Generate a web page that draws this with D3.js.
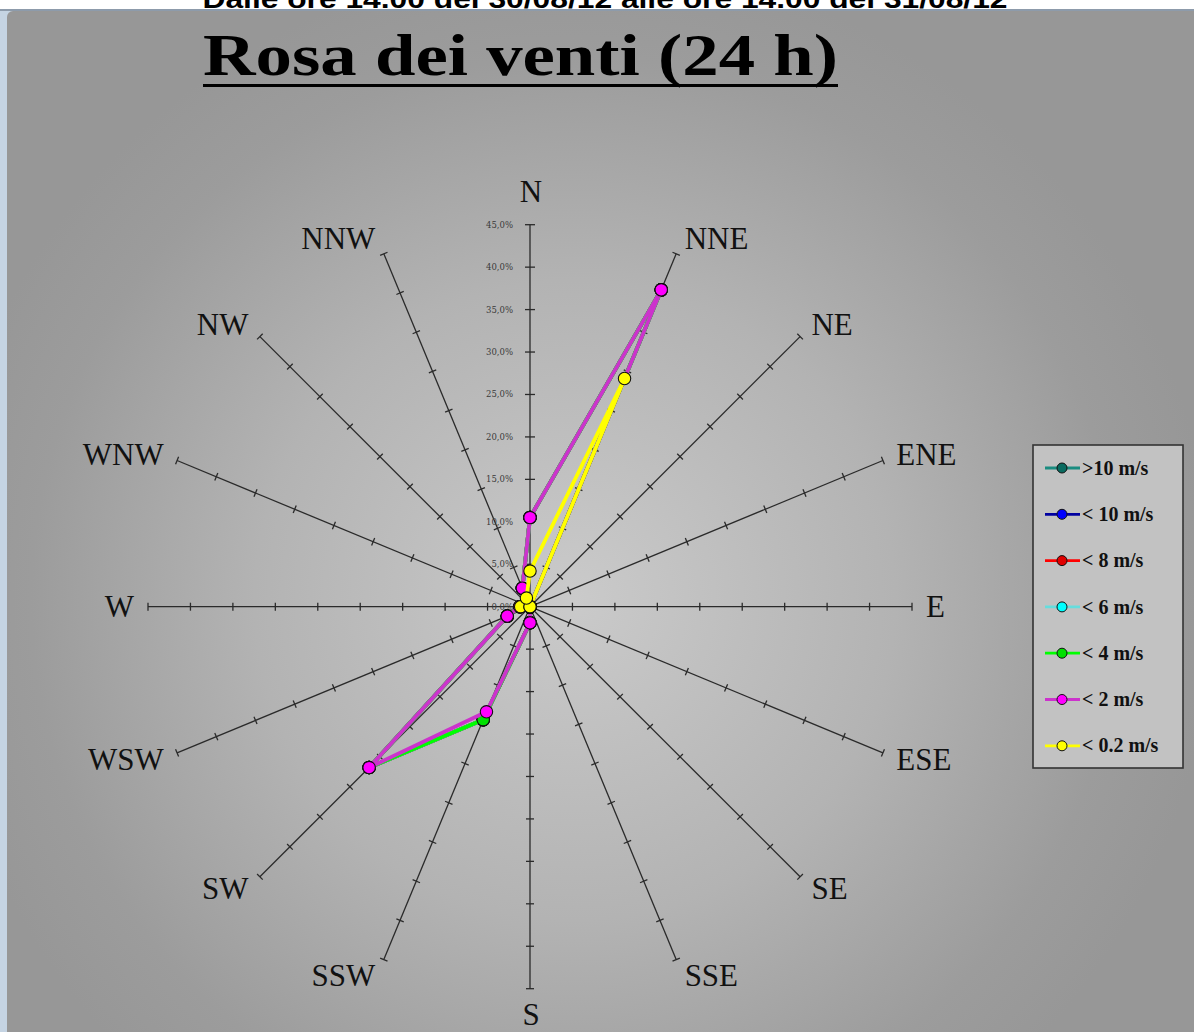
<!DOCTYPE html>
<html><head><meta charset="utf-8">
<script src="https://cdn.jsdelivr.net/npm/d3@7/dist/d3.min.js"></script>
<style>html,body{margin:0;padding:0;background:#fff;overflow:hidden}</style>
</head><body>
<svg id="c" width="1194" height="1032"></svg>
<script>
// ---------- DATA ----------
const directions = ["N","NNE","NE","ENE","E","ESE","SE","SSE","S","SSW","SW","WSW","W","WNW","NW","NNW"];
const seriesNames = [">10 m/s","< 10 m/s","< 8 m/s","< 6 m/s","< 4 m/s","< 2 m/s","< 0.2 m/s"];
const over10  = [10.5, 40.4, 0, 0, 0, 0, 0, 0, 1.9, 14.4, 26.8, 2.9, 1.2, 0, 0, 2.35];
const under10 = [10.5, 40.4, 0, 0, 0, 0, 0, 0, 1.9, 14.4, 26.8, 2.9, 1.2, 0, 0, 2.35];
const under8  = [10.5, 40.4, 0, 0, 0, 0, 0, 0, 1.9, 14.4, 26.8, 2.9, 1.2, 0, 0, 2.35];
const under6  = [10.5, 40.4, 0, 0, 0, 0, 0, 0, 1.9, 14.4, 26.8, 2.9, 1.2, 0, 0, 2.35];
const under4  = [10.5, 40.4, 0, 0, 0, 0, 0, 0, 1.9, 14.4, 26.8, 2.9, 1.2, 0, 0, 2.35];
const under2  = [10.5, 40.4, 0, 0, 0, 0, 0, 0, 1.9, 13.4, 26.8, 2.9, 1.2, 0, 0, 2.35];
const under02 = [4.2, 29.1, 0, 0, 0, 0, 0, 0, 0, 0, 0, 0, 1.1, 0, 0, 1.1];
const radialTicks = [0, 5, 10, 15, 20, 25, 30, 35, 40, 45];
const titleText = "Rosa dei venti (24 h)";
const subtitleText = "Dalle ore 14.00 del 30/08/12 alle ore 14.00 del 31/08/12";

// ---------- STYLES ----------
const lineColors   = ["#1a8c80","#0000a0","#ff0000","#66dddd","#00ff00","#cc33cc","#ffff00"];
const markerColors = ["#0a6b60","#0000ff","#e00000","#00ffff","#00e000","#ff00ff","#ffff00"];
const seriesValues = [over10, under10, under8, under6, under4, under2, under02];

const svg = d3.select("#c");
const W = 1194, H = 1032;
const cx = 530, cy = 606.7, R = 382;

// defs
const defs = svg.append("defs");
const g1 = defs.append("radialGradient").attr("id","bg").attr("gradientUnits","userSpaceOnUse")
  .attr("cx",575).attr("cy",600).attr("r",640);
g1.append("stop").attr("offset","0").attr("stop-color","#cacaca");
g1.append("stop").attr("offset","0.5").attr("stop-color","#b3b3b3");
g1.append("stop").attr("offset","0.85").attr("stop-color","#9c9c9c");
g1.append("stop").attr("offset","1").attr("stop-color","#979797");

// top strip + subtitle (cut at the top edge as in the source)
svg.append("rect").attr("x",0).attr("y",0).attr("width",W).attr("height",10).attr("fill","#ffffff");
svg.append("text").attr("x",605).attr("y",8).attr("text-anchor","middle")
  .attr("font-family","Liberation Sans, Arial, sans-serif").attr("font-weight","bold")
  .attr("font-size",25).attr("textLength",805).attr("lengthAdjust","spacingAndGlyphs")
  .attr("fill","#000").text(subtitleText);
// chart frame
svg.append("rect").attr("x",0).attr("y",9).attr("width",W).attr("height",H-9).attr("fill","#c5d4e3");
svg.append("rect").attr("x",7).attr("y",11).attr("width",W).attr("height",H).attr("rx",6).attr("fill","url(#bg)");
svg.append("rect").attr("x",0).attr("y",9).attr("width",W).attr("height",2).attr("fill","#8d9bab");

// title
svg.append("text").attr("x",203).attr("y",75)
  .attr("font-family","Liberation Serif, Times New Roman, serif").attr("font-weight","bold")
  .attr("font-size",60).attr("textLength",635).attr("lengthAdjust","spacingAndGlyphs")
  .attr("fill","#000").text(titleText);
svg.append("rect").attr("x",203).attr("y",84).attr("width",635).attr("height",3).attr("fill","#000");

// scales
const r = d3.scaleLinear().domain([0,45]).range([0,R]);
const ang = d3.scalePoint().domain(directions).range([0, 2*Math.PI*15/16]);
const px = (d,v) => cx + r(v)*Math.sin(ang(d));
const py = (d,v) => cy - r(v)*Math.cos(ang(d));

const plot = svg.append("g");
// axes
directions.forEach(d => {
  const a = ang(d), s = Math.sin(a), c = Math.cos(a);
  plot.append("line").attr("x1",cx).attr("y1",cy).attr("x2",px(d,45)).attr("y2",py(d,45))
    .attr("stroke","#2a2a2a").attr("stroke-width",1.3);
  radialTicks.filter(t=>t>0).forEach(t => {
    const x = px(d,t), y = py(d,t), L = d==="N" ? 5 : 4;
    plot.append("line").attr("x1",x - c*L).attr("y1",y - s*L).attr("x2",x + c*L).attr("y2",y + s*L)
      .attr("stroke","#2a2a2a").attr("stroke-width",1.3);
  });
  // direction label
  const ex = px(d,45), ey = py(d,45);
  let tx, ty, anchor;
  if (Math.abs(s) < 0.1) { tx = ex + 1; ty = ey - c*(c>0 ? 33.5 : 26); anchor = "middle"; }
  else { const gap = 5 + 9*Math.abs(s); tx = ex + (s>0?gap:-gap); ty = ey - 17*c; anchor = s>0 ? "start" : "end"; }
  plot.append("text").attr("x",tx).attr("y",ty).attr("dy","0.34em").attr("text-anchor",anchor)
    .attr("font-family","Liberation Serif, Times New Roman, serif").attr("font-size",31)
    .attr("fill","#111").text(d);
});
// radial tick labels on N axis
radialTicks.forEach(t => {
  plot.append("text").attr("x",cx - 17).attr("y",py("N",t)).attr("dy","0.35em").attr("text-anchor","end")
    .attr("font-family","DejaVu Serif, serif").attr("font-size",8.5).attr("fill","#3a3a3a")
    .text(d3.format(".1f")(t).replace(".",",") + "%");
});

// series
const line = d3.lineRadial().angle((v,i)=>ang(directions[i])).radius(v=>r(v)).curve(d3.curveLinearClosed);
seriesValues.forEach((vals,k) => {
  const g = plot.append("g").attr("transform",`translate(${cx},${cy})`);
  g.append("path").attr("d",line(vals)).attr("fill","none").attr("stroke",lineColors[k])
    .attr("stroke-width",3.8).attr("stroke-linejoin","round");
  g.selectAll("circle").data(vals).join("circle")
    .attr("cx",(v,i)=>r(v)*Math.sin(ang(directions[i])))
    .attr("cy",(v,i)=>-r(v)*Math.cos(ang(directions[i])))
    .attr("r",6.2).attr("fill",markerColors[k]).attr("stroke","#111").attr("stroke-width",1.1);
});

// legend
const lg = svg.append("g");
lg.append("rect").attr("x",1033).attr("y",445).attr("width",150).attr("height",323)
  .attr("fill","#c2c2c2").attr("stroke","#333").attr("stroke-width",1.6);
seriesNames.forEach((n,k) => {
  const y = 468 + k*46.3;
  lg.append("line").attr("x1",1045).attr("x2",1080).attr("y1",y).attr("y2",y)
    .attr("stroke",lineColors[k]).attr("stroke-width",2.8);
  lg.append("circle").attr("cx",1062).attr("cy",y).attr("r",5).attr("fill",markerColors[k])
    .attr("stroke","#111").attr("stroke-width",1);
  lg.append("text").attr("x",1082).attr("y",y).attr("dy","0.33em")
    .attr("font-family","Liberation Serif, Times New Roman, serif").attr("font-weight","bold")
    .attr("font-size",20).attr("fill","#111").text(n);
});
</script>
</body></html>
